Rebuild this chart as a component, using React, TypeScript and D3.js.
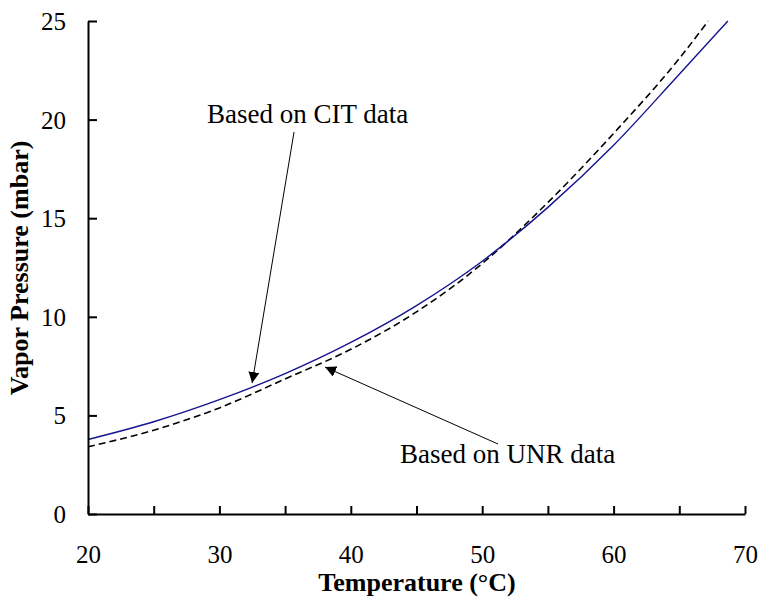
import { useEffect, useRef } from "react"
import * as d3 from "d3"

// vapor pressure curves (T in °C, P in mbar)
const citTemps = [20, 25, 30, 35, 40, 45, 50, 55, 60, 65, 68.7]
const citPressure = [3.78, 4.68, 5.8, 7.12, 8.7, 10.57, 12.82, 15.55, 18.7, 22.3, 25]

const unrTemps = [20, 25, 30, 35, 40, 45, 50, 55, 60, 65, 67.2]
const unrPressure = [3.41, 4.25, 5.38, 6.85, 8.35, 10.25, 12.7, 15.8, 19.3, 23.1, 25]

const xTicks = [20, 25, 30, 35, 40, 45, 50, 55, 60, 65, 70]
const yTicks = [0, 5, 10, 15, 20, 25]

// annotations in data units: label anchor, arrow start, arrow tip
const notes = [
  { text: "Based on CIT data", at: [29.06, 19.83], from: [35.68, 19.37], to: [32.49, 6.64] },
  { text: "Based on UNR data", at: [43.74, 2.59], from: [51.2, 3.55], to: [38.04, 7.45] },
]

const FONT = "Liberation Serif"

export default function App() {
  const ref = useRef<SVGSVGElement>(null)

  useEffect(() => {
    const el = ref.current
    if (!el) return
    const svg = d3.select(el)
    svg.selectAll("*").remove()

    const x = d3.scaleLinear().domain([20, 70]).range([88, 745])
    const y = d3.scaleLinear().domain([0, 25]).range([514, 21])

    const defs = svg.append("defs")
    defs
      .append("clipPath")
      .attr("id", "plot")
      .append("rect")
      .attr("x", 88)
      .attr("y", 20)
      .attr("width", 680)
      .attr("height", 500)

    defs
      .append("marker")
      .attr("id", "head")
      .attr("viewBox", "0 0 10 10")
      .attr("refX", 10)
      .attr("refY", 5)
      .attr("markerWidth", 11)
      .attr("markerHeight", 11)
      .attr("markerUnits", "userSpaceOnUse")
      .attr("orient", "auto")
      .append("path")
      .attr("d", "M0,0 L10,5 L0,10 Z")
      .attr("fill", "#000")

    const line = d3
      .line<[number, number]>()
      .x((d) => x(d[0]))
      .y((d) => y(d[1]))
      .curve(d3.curveMonotoneX)

    const g = svg.append("g").attr("clip-path", "url(#plot)")
    g.append("path")
      .datum(unrTemps.map((t, i) => [t, unrPressure[i]] as [number, number]))
      .attr("d", line)
      .attr("fill", "none")
      .attr("stroke", "#000")
      .attr("stroke-width", 1.6)
      .attr("stroke-dasharray", "7,4")
    g.append("path")
      .datum(citTemps.map((t, i) => [t, citPressure[i]] as [number, number]))
      .attr("d", line)
      .attr("fill", "none")
      .attr("stroke", "#14148f")
      .attr("stroke-width", 1.4)

    // axes
    const yAxis = svg
      .append("g")
      .attr("transform", `translate(${x(20)},0)`)
      .call(d3.axisLeft(y).tickValues(yTicks).tickSizeInner(-9).tickSizeOuter(0).tickPadding(22))
    const xAxis = svg
      .append("g")
      .attr("transform", `translate(0,${y(0)})`)
      .call(
        d3
          .axisBottom(x)
          .tickValues(xTicks)
          .tickSizeInner(-8)
          .tickSizeOuter(0)
          .tickFormat((d) => ((d as number) % 10 === 0 ? String(d) : ""))
      )
    for (const ax of [xAxis, yAxis]) {
      ax.attr("font-family", null).attr("font-size", null)
      ax.select(".domain").attr("stroke", "#000").attr("stroke-width", 2)
      ax.selectAll(".tick line").attr("stroke", "#000").attr("stroke-width", 2)
      ax.selectAll("text").style("font-family", FONT).style("font-size", "25px").attr("fill", "#000")
    }
    yAxis.selectAll("text").attr("dy", "0.34em")
    xAxis.selectAll("text").attr("y", 31).attr("dy", "0.71em")

    svg
      .append("text")
      .attr("x", 417)
      .attr("y", 591)
      .attr("text-anchor", "middle")
      .style("font-family", FONT)
      .style("font-weight", "bold")
      .style("font-size", "26px")
      .text("Temperature (°C)")

    svg
      .append("text")
      .attr("transform", "translate(28,268) rotate(-90)")
      .attr("text-anchor", "middle")
      .style("font-family", FONT)
      .style("font-weight", "bold")
      .style("font-size", "26px")
      .text("Vapor Pressure (mbar)")

    for (const n of notes) {
      svg
        .append("text")
        .attr("x", x(n.at[0]))
        .attr("y", y(n.at[1]))
        .style("font-family", FONT)
        .style("font-size", "27px")
        .text(n.text)
      svg
        .append("line")
        .attr("x1", x(n.from[0]))
        .attr("y1", y(n.from[1]))
        .attr("x2", x(n.to[0]))
        .attr("y2", y(n.to[1]))
        .attr("stroke", "#000")
        .attr("stroke-width", 1)
        .attr("marker-end", "url(#head)")
    }
  }, [])

  return (
    <svg
      ref={ref}
      width={761}
      height={603}
      style={{ position: "absolute", left: 0, top: 0, background: "#fff" }}
    />
  )
}
